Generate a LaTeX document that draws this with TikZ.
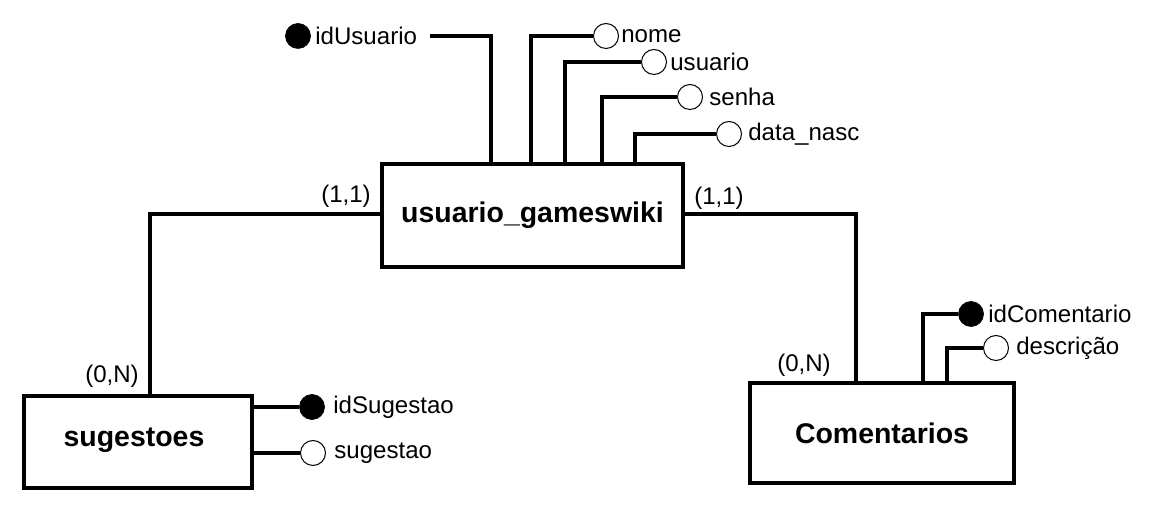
\documentclass[tikz,border=0pt]{standalone}
\usepackage{fontspec}
\setmainfont{Liberation Sans}
\usepackage{tikz}
\usetikzlibrary{positioning}

\begin{document}
\begin{tikzpicture}[x=0.02cm, y=-0.02cm,
  entity/.style={draw, line width=0.08cm, minimum width=#1, inner sep=0pt,
                 font=\fontsize{16.2}{19}\selectfont\bfseries},
  link/.style={line width=0.08cm},
  pk/.style={circle, fill=black, draw=black, minimum size=0.5cm, inner sep=0pt},
  attr/.style={circle, draw=black, line width=0.02cm, minimum size=0.5cm, inner sep=0pt},
  lbl/.style={anchor=west, inner sep=0pt, font=\fontsize{13.7}{16}\selectfont},
  card/.style={inner sep=0pt, font=\fontsize{13.7}{16}\selectfont}
]
  \useasboundingbox (0,0) rectangle (1156,516);

  % entities
  \node[entity=6.04cm, minimum height=2.06cm] (usu) at (532.5,215.5) {usuario\_gameswiki};
  \node[entity=4.56cm, minimum height=1.84cm] (sug) at (138,442) {};
  \node[font=\fontsize{16.2}{19}\selectfont\bfseries, inner sep=0pt] (tSug) at (134,440) {sugestoes};
  \node[entity=5.28cm, minimum height=2.02cm] (com) at (882,433) {Comentarios};

  % attributes of usuario_gameswiki
  \node[pk] (cIdU) at (298,36) {};
  \node[lbl] (lIdU) at (315,36) {idUsuario};
  \node[attr] (cNome) at (606,36) {};
  \node[lbl] (lNome) at (621,36) {nome};
  \node[attr] (cUsr) at (654,62) {};
  \node[lbl] (lUsr) at (670,62) {usuario};
  \node[attr] (cSenha) at (690,97) {};
  \node[lbl] (lSenha) at (709,97) {senha};
  \node[attr] (cData) at (729,134) {};
  \node[lbl] (lData) at (748,134) {data\_nasc};

  \coordinate (jIdU) at (491,164);
  \coordinate (eIdU) at (430,36);
  \coordinate (jNome) at (531,164);
  \coordinate (jUsr) at (565,164);
  \coordinate (jSenha) at (602,164);
  \coordinate (jData) at (635,164);
  \draw[link] (jIdU) |- (eIdU);
  \draw[link] (jNome) |- (cNome.west);
  \draw[link] (jUsr) |- (cUsr.west);
  \draw[link] (jSenha) |- (cSenha.west);
  \draw[link] (jData) |- (cData.west);

  % attributes of sugestoes
  \node[pk] (cIdS) at (312,407) {};
  \node[lbl] (lIdS) at (333,407) {idSugestao};
  \node[attr] (cSug) at (313,453) {};
  \node[lbl] (lSug) at (334,453) {sugestao};
  \draw[link] (sug.east |- cIdS) -- (cIdS.west);
  \draw[link] (sug.east |- cSug) -- (cSug.west);

  % attributes of Comentarios
  \node[pk] (cIdC) at (971,314) {};
  \node[lbl] (lIdC) at (988,314) {idComentario};
  \node[attr] (cDesc) at (996,348) {};
  \node[lbl] (lDesc) at (1016,348) {descrição};
  \coordinate (jIdC) at (923,382);
  \coordinate (jDesc) at (947,382);
  \draw[link] (jIdC) |- (cIdC.west);
  \draw[link] (jDesc) |- (cDesc.west);

  % relationships
  \coordinate (jSugTop) at (150,397);
  \coordinate (jComTop) at (856,382);
  \draw[link] (usu.west |- 0,214) -| (jSugTop);
  \draw[link] (usu.east |- 0,214) -| (jComTop);
  \node[card] (k1) at (346,196) {(1,1)};
  \node[card] (k2) at (112,376) {(0,N)};
  \node[card] (k3) at (719,198) {(1,1)};
  \node[card] (k4) at (804,365) {(0,N)};
\end{tikzpicture}
\end{document}
